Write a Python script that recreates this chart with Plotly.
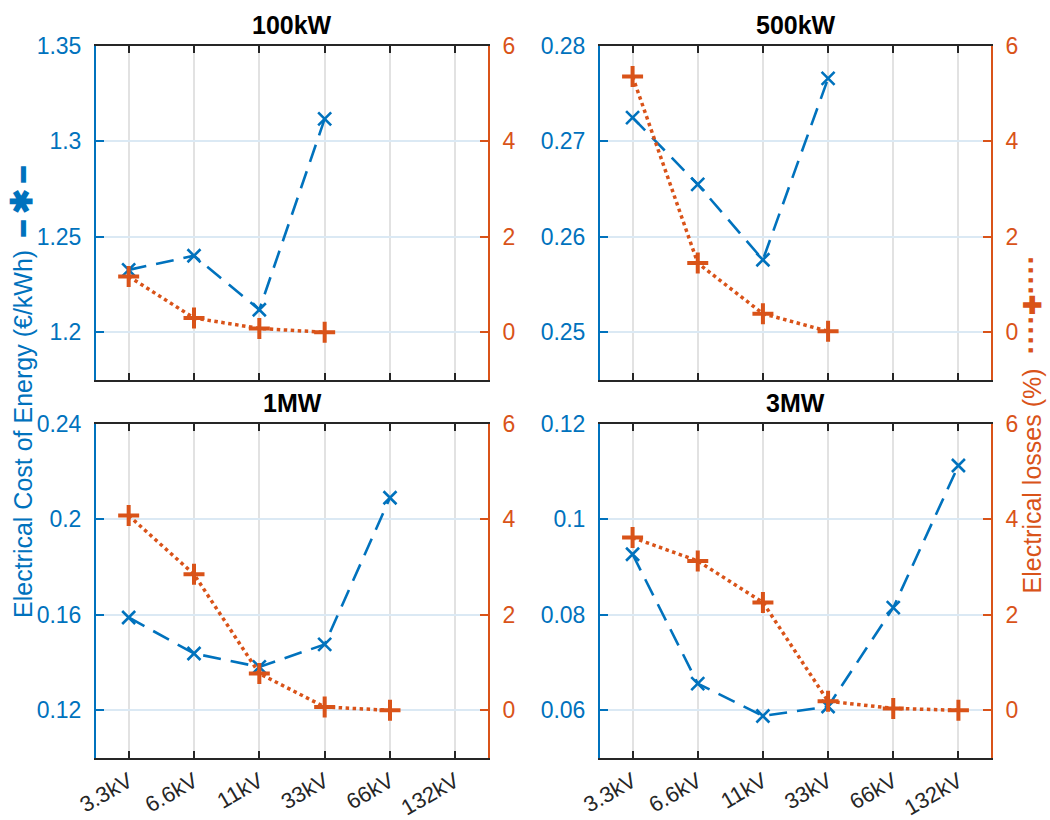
import plotly.graph_objects as go
from plotly.subplots import make_subplots

# ---------------- data ----------------
voltages = ["3.3kV", "6.6kV", "11kV", "33kV", "66kV", "132kV"]
panel_titles = ["100kW", "500kW", "1MW", "3MW"]

cost_100kw = [1.2327, 1.2401, 1.2118, 1.3118]
loss_100kw = [1.17, 0.30, 0.08, 0.00]

cost_500kw = [0.2725, 0.2655, 0.2576, 0.2766]
loss_500kw = [5.36, 1.45, 0.39, 0.02]

cost_1mw = [0.1589, 0.1438, 0.1382, 0.1476, 0.2091]
loss_1mw = [4.08, 2.85, 0.77, 0.07, 0.00]

cost_3mw = [0.0927, 0.0656, 0.0588, 0.0608, 0.0815, 0.1113]
loss_3mw = [3.62, 3.13, 2.26, 0.19, 0.04, 0.00]

cost_ranges = [[1.175, 1.35], [0.245, 0.28], [0.10, 0.24], [0.05, 0.12]]
cost_tick0 = [1.2, 0.25, 0.12, 0.06]
cost_dtick = [0.05, 0.01, 0.04, 0.02]
loss_range = [-1, 6]

# ---------------- style ----------------
BLUE = "#0072BD"
ORANGE = "#D95319"
DARK = "#262626"
FONT = "Liberation Sans, Arial, Helvetica, sans-serif"
W, H = 1050, 820

fig = make_subplots(
    rows=2, cols=2,
    specs=[[{"secondary_y": True}, {"secondary_y": True}],
           [{"secondary_y": True}, {"secondary_y": True}]],
)

costs = [cost_100kw, cost_500kw, cost_1mw, cost_3mw]
losses = [loss_100kw, loss_500kw, loss_1mw, loss_3mw]
positions = [(1, 1), (1, 2), (2, 1), (2, 2)]

# pixel frames of each panel: (left, right, top, bottom)
frames = [(96, 488, 46, 380), (600, 991, 46, 380),
          (96, 488, 424, 758), (600, 991, 424, 758)]

for i, (r, c) in enumerate(positions):
    fig.add_trace(go.Scatter(
        x=list(range(len(costs[i]))), y=costs[i], mode="lines+markers",
        line=dict(color=BLUE, width=2.6, dash="18px,10px"),
        marker=dict(symbol="x-thin", size=13, line=dict(color=BLUE, width=2.6), color=BLUE),
        showlegend=False, hoverinfo="skip"),
        row=r, col=c, secondary_y=False)
    fig.add_trace(go.Scatter(
        x=list(range(len(losses[i]))), y=losses[i], mode="lines+markers",
        line=dict(color=ORANGE, width=3.5, dash="3.5px,3.5px"),
        marker=dict(symbol="cross-thin", size=15, line=dict(color=ORANGE, width=4), color=ORANGE),
        showlegend=False, hoverinfo="skip"),
        row=r, col=c, secondary_y=True)

    L, R, T, B = frames[i]
    fig.update_xaxes(
        domain=[L / W, R / W], range=[-0.5, 5.5], automargin=False,
        tickmode="array", tickvals=list(range(len(voltages))), ticktext=voltages,
        showticklabels=(r == 2), tickangle=-30,
        tickfont=dict(family=FONT, size=22, color=DARK),
        ticks="inside", ticklen=7, tickwidth=2, tickcolor=DARK,
        showline=True, linecolor=DARK, linewidth=2, mirror="ticks",
        showgrid=True, gridcolor="#e2e2e2", gridwidth=2,
        zeroline=False, ticklabelstandoff=0,
        row=r, col=c)
    fig.update_yaxes(
        domain=[1 - B / H, 1 - T / H], range=cost_ranges[i], automargin=False,
        tick0=cost_tick0[i], dtick=cost_dtick[i],
        tickfont=dict(family=FONT, size=23, color=BLUE),
        ticks="inside", ticklen=8, tickwidth=2, tickcolor=BLUE,
        showline=True, linecolor=BLUE, linewidth=2, mirror=False,
        showgrid=True, gridcolor="#dbe9f4", gridwidth=2,
        zeroline=False, ticklabelstandoff=8,
        row=r, col=c, secondary_y=False)
    fig.update_yaxes(
        range=loss_range, tick0=0, dtick=2, automargin=False,
        tickfont=dict(family=FONT, size=23, color=ORANGE),
        ticks="inside", ticklen=8, tickwidth=2, tickcolor=ORANGE,
        showline=True, linecolor=ORANGE, linewidth=2,
        showgrid=False, zeroline=False, ticklabelstandoff=8,
        row=r, col=c, secondary_y=True)

    fig.add_annotation(
        text="<b>%s</b>" % panel_titles[i], xref="paper", yref="paper",
        x=(L + R) / 2 / W, y=1 - T / H, xanchor="center", yanchor="bottom",
        yshift=5, showarrow=False,
        font=dict(family=FONT, size=25, color="#000000"))

# y-axis labels with line-style glyphs
fig.add_annotation(
    text="Electrical Cost of Energy (€/kWh)  <b>━ <span style='font-size:30px'>✱</span> ━</b>",
    xref="paper", yref="paper", x=21 / W, y=1 - 392 / H,
    xanchor="center", yanchor="middle", textangle=-90, showarrow=False,
    font=dict(family=FONT, size=25, color=BLUE))
fig.add_annotation(
    text=("Electrical losses (%)  <b><span style='font-size:30px'>····</span>"
          "<span style='font-size:24px'>✚</span>"
          "<span style='font-size:30px'>····</span></b>"),
    xref="paper", yref="paper", x=1048 / W, y=1 - 424 / H,
    xanchor="right", yanchor="middle", textangle=-90, showarrow=False,
    font=dict(family=FONT, size=25, color=ORANGE))

fig.update_layout(
    width=W, height=H,
    margin=dict(l=0, r=0, t=0, b=0, pad=0),
    paper_bgcolor="white", plot_bgcolor="white",
    font=dict(family=FONT),
)

fig.write_html(
    "out.html",
    config={"displayModeBar": False, "staticPlot": True},
    post_script="document.body.style.margin='0';document.body.style.overflow='hidden';",
)
